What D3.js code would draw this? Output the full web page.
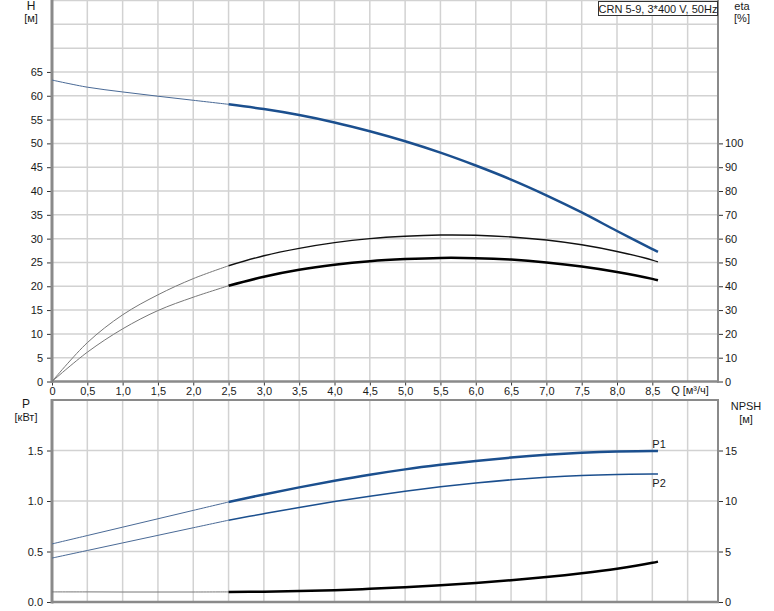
<!DOCTYPE html>
<html><head><meta charset="utf-8">
<script src="https://cdn.jsdelivr.net/npm/d3@7"></script>
<style>
body{margin:0;background:#fff;}
svg{display:block;font-family:Arial,"Liberation Sans",sans-serif;}
</style></head>
<body><svg id="c" width="774" height="611"></svg>
<script>
// ---- data ----
const qPts   = [0,0.5,1,1.5,2,2.5,3,3.5,4,4.5,5,5.5,6,6.5,7,7.5,8,8.5,8.58];
const headH  = [63.3,61.8,60.8,59.9,59.05,58.2,57.2,55.95,54.4,52.55,50.45,48.05,45.35,42.4,39.1,35.5,31.6,27.8,27.2];
const etaPump= [0,16.3,28,36.4,43.2,48.6,52.8,55.9,58.3,60.0,61.0,61.5,61.4,60.7,59.4,57.4,54.6,51.0,50.2];
const etaTot = [0,12.3,22.1,29.8,35.4,40.2,44.0,46.9,49.0,50.5,51.4,51.9,51.8,51.2,50.0,48.3,46.0,43.1,42.5];
const powerP1= [0.575,0.658,0.741,0.824,0.907,0.99,1.065,1.135,1.20,1.26,1.313,1.358,1.397,1.43,1.457,1.477,1.49,1.496,1.495];
const powerP2= [0.435,0.51,0.585,0.66,0.735,0.81,0.874,0.936,0.994,1.047,1.096,1.14,1.178,1.21,1.235,1.253,1.263,1.267,1.267];
const npsh   = [1.0,1.0,0.99,0.99,0.99,1.0,1.02,1.08,1.17,1.3,1.46,1.65,1.88,2.15,2.47,2.85,3.3,3.88,4.0];
const qTicks = [0,0.5,1,1.5,2,2.5,3,3.5,4,4.5,5,5.5,6,6.5,7,7.5,8,8.5];
const hTicks = [0,5,10,15,20,25,30,35,40,45,50,55,60,65];
const etaTicks=[0,10,20,30,40,50,60,70,80,90,100];
const pTicks = [0,0.5,1,1.5];
const npshTicks=[0,5,10,15];
const qSplit = 2.5;
const title = "CRN 5-9, 3*400 V, 50Hz";

const svg = d3.select("#c");
const L=52, R=718;
const x = d3.scaleLinear().domain([0,9.43]).range([L,R]);
const yH = d3.scaleLinear().domain([0,80]).range([381.5,0.5]);
const yE = d3.scaleLinear().domain([0,160]).range([381.5,0.5]);
const yP = d3.scaleLinear().domain([0,2]).range([602,400]);
const yN = d3.scaleLinear().domain([0,20]).range([602,400]);
const gridC="#d2d2d2", axC="#8a8a8a", txt="#1a1a1a", blue="#1b4f8e";

// grids
const gTop = svg.append("g");
d3.range(0.5,9.01,0.5).forEach(q=>gTop.append("line").attr("x1",x(q)).attr("x2",x(q)).attr("y1",yH(80)).attr("y2",yH(0)).attr("stroke",gridC).attr("stroke-width",1.5));
d3.range(5,80.1,5).forEach(h=>gTop.append("line").attr("x1",L).attr("x2",R).attr("y1",yH(h)).attr("y2",yH(h)).attr("stroke",gridC).attr("stroke-width",1.5));
const gBot = svg.append("g");
d3.range(0.5,9.01,0.5).forEach(q=>gBot.append("line").attr("x1",x(q)).attr("x2",x(q)).attr("y1",yP(2)).attr("y2",yP(0)).attr("stroke",gridC).attr("stroke-width",1.5));
[0.5,1,1.5].forEach(p=>gBot.append("line").attr("x1",L).attr("x2",R).attr("y1",yP(p)).attr("y2",yP(p)).attr("stroke",gridC).attr("stroke-width",1.5));

// axes
function styleAxis(g){
  g.select(".domain").remove();
  g.selectAll(".tick line").attr("stroke","#333");
  g.selectAll(".tick text").attr("fill",txt).style("font-size","11px");
}
svg.append("g").attr("transform",`translate(0,${yH(0)})`)
  .call(d3.axisBottom(x).tickValues(qTicks).tickSize(4).tickPadding(2).tickFormat(d=>d===0?"0":d3.format(".1f")(d).replace(".",",")))
  .call(styleAxis);
svg.append("g").attr("transform",`translate(${L},0)`)
  .call(d3.axisLeft(yH).tickValues(hTicks).tickSize(5).tickPadding(4))
  .call(styleAxis);
svg.append("g").attr("transform",`translate(${R},0)`)
  .call(d3.axisRight(yE).tickValues(etaTicks).tickSize(5).tickPadding(2))
  .call(styleAxis);
svg.append("g").attr("transform",`translate(${L},0)`)
  .call(d3.axisLeft(yP).tickValues(pTicks).tickSize(5).tickPadding(4).tickFormat(d3.format(".1f")))
  .call(styleAxis);
svg.append("g").attr("transform",`translate(${R},0)`)
  .call(d3.axisRight(yN).tickValues(npshTicks).tickSize(5).tickPadding(2))
  .call(styleAxis);

// frame lines
svg.append("line").attr("x1",L).attr("x2",L).attr("y1",0).attr("y2",383).attr("stroke",axC).attr("stroke-width",3);
svg.append("line").attr("x1",L).attr("x2",R+1).attr("y1",yH(0)).attr("y2",yH(0)).attr("stroke",axC).attr("stroke-width",2.5);
svg.append("line").attr("x1",R).attr("x2",R).attr("y1",0).attr("y2",383).attr("stroke",axC).attr("stroke-width",2);
svg.append("line").attr("x1",L).attr("x2",L).attr("y1",399).attr("y2",603.5).attr("stroke",axC).attr("stroke-width",3);
svg.append("line").attr("x1",L).attr("x2",R+1).attr("y1",yP(0)).attr("y2",yP(0)).attr("stroke",axC).attr("stroke-width",2.5);
svg.append("line").attr("x1",R).attr("x2",R).attr("y1",399).attr("y2",603).attr("stroke",axC).attr("stroke-width",2);
svg.append("line").attr("x1",L).attr("x2",R+1).attr("y1",400).attr("y2",400).attr("stroke",axC).attr("stroke-width",2);

// curves
function draw(vals, sx, sy, colThin, wThin, colThick, wThick){
  const pts = qPts.map((q,i)=>[q,vals[i]]);
  const line = d3.line().x(d=>sx(d[0])).y(d=>sy(d[1])).curve(d3.curveCatmullRom.alpha(0.5));
  const a = pts.filter(d=>d[0]<=qSplit), b = pts.filter(d=>d[0]>=qSplit);
  svg.append("path").attr("d",line(a)).attr("fill","none").attr("stroke",colThin).attr("stroke-width",wThin);
  svg.append("path").attr("d",line(b)).attr("fill","none").attr("stroke",colThick).attr("stroke-width",wThick).attr("stroke-linecap","butt");
}
draw(headH, x, yH, "#4a6a96", 1, blue, 2.5);
draw(etaPump, x, yE, "#777", 1, "#111", 1.4);
draw(etaTot, x, yE, "#777", 1, "#000", 2.5);
draw(powerP1, x, yP, "#4a6a96", 1, blue, 2.5);
draw(powerP2, x, yP, "#4a6a96", 1, blue, 1.5);
draw(npsh, x, yN, "#777", 1, "#000", 2.5);

// labels
function t(s,xx,yy,anchor,size){svg.append("text").attr("x",xx).attr("y",yy).attr("text-anchor",anchor||"middle").attr("fill",txt).style("font-size",(size||11)+"px").text(s);}
t("H",31,10,"middle",12); t("[м]",31,22,"middle",11);
t("eta",742,10,"middle",11); t("[%]",742,22,"middle",11);
t("P",26,408,"middle",12); t("[кВт]",26,421,"middle",11);
t("NPSH",746,410,"middle",11); t("[м]",746,423,"middle",11);
t("Q [м³/ч]",690,394,"middle",11);
t("P1",x(8.5),448,"start",11); t("P2",x(8.5),487,"start",11);

// title box
svg.append("rect").attr("x",598.5).attr("y",1.5).attr("width",119).attr("height",14).attr("fill","#fff").attr("stroke","#333").attr("stroke-width",1);
t(title,658,12.5,"middle",11);
</script></body></html>
